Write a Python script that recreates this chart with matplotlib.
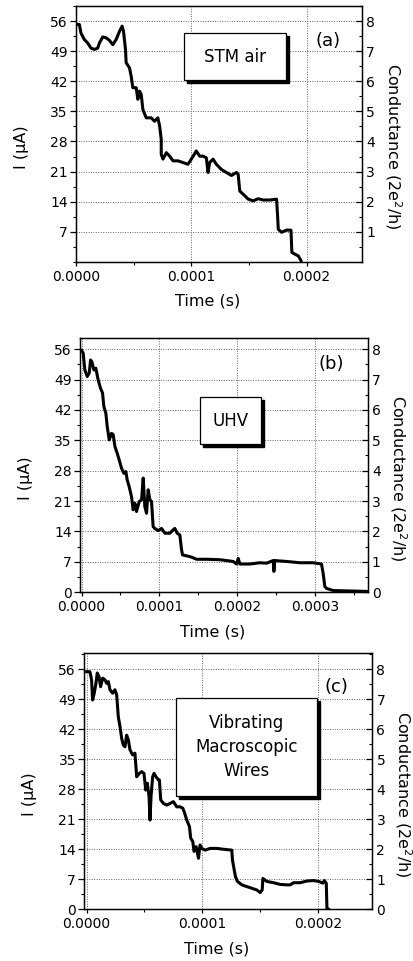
import numpy as np
import matplotlib.pyplot as plt
from matplotlib.patches import Rectangle
from matplotlib.ticker import MultipleLocator, FormatStrFormatter

# time in microseconds, current in uA
t_a = [0, 2.9, 4.3, 7.2, 10.1, 13.0, 15.9, 18.8, 20.3, 23.2, 26.1, 29.0, 31.9, 34.8, 37.7, 40.0,
       41.2, 42.9, 43.5, 46.4, 47.8, 49.3, 52.2, 53.6, 55.1, 56.5, 58.0, 60.9, 65.2, 68.1, 71.0,
       72.5, 73.9, 73.9, 75.4, 78.3, 81.2, 84.1, 88.4, 92.8, 97.1, 100.0, 104.3, 107.2, 110.1,
       113.0, 114.5, 115.9, 118.8, 121.7, 126.1, 130.4, 134.8, 139.1, 140.6, 142.0, 143.5, 146.4,
       149.3, 153.6, 158.0, 162.3, 168.1, 173.9, 174.8, 175.4, 178.3, 182.6, 186.4, 187.2, 189.9,
       192.8, 195.1]
i_a = [55.2, 55.2, 53.2, 51.7, 50.9, 49.7, 49.4, 49.7, 50.9, 52.3, 52.1, 51.5, 50.5, 51.7, 53.6, 54.8,
       53.6, 49.4, 46.3, 45.1, 43.2, 40.5, 40.5, 37.8, 39.7, 39.0, 35.4, 33.5, 33.5, 32.7, 33.5,
       31.6, 28.5, 25.0, 23.9, 25.4, 24.6, 23.5, 23.5, 23.1, 22.7, 23.9, 25.8, 24.6, 24.6,
       24.2, 20.8, 23.1, 23.9, 22.7, 21.5, 20.8, 20.1, 20.8, 20.4, 16.5, 16.1, 15.4,
       14.6, 14.2, 14.7, 14.4, 14.4, 14.6, 10.7, 7.6, 6.9, 7.4, 7.4, 2.2, 1.8,
       1.4, 0.3]

t_b = [0, 2.1, 4.3, 7.3, 9.9, 11.6, 13.3, 15.9, 18.4, 21.4, 24.4, 27.0, 28.7, 31.3, 33.0, 35.6,
       38.6, 40.7, 42.9, 45.9, 48.4, 51.4, 54.4, 57.0, 58.7, 61.3, 64.3, 66.4, 68.6, 70.7, 74.2,
       77.2, 79.3, 81.4, 83.6, 85.7, 87.9, 90.0, 92.1, 94.3, 98.6, 102.9, 107.2, 113.6, 117.9,
       120.0, 123.0, 126.4, 128.6, 129.9, 135.0, 141.4, 147.9, 160.7, 177.9, 195.0, 199.3, 201.5,
       203.6, 216.5, 229.3, 237.9, 246.5, 247.4, 248.6, 263.6, 280.8, 297.9, 308.6, 310.7, 312.9,
       315.0, 323.6, 366.5]
i_b = [55.7, 55.1, 51.2, 49.7, 50.5, 53.5, 53.1, 51.2, 51.6, 48.9, 47.0, 45.9, 42.8, 41.2, 38.2, 35.1,
       36.6, 36.3, 33.6, 32.0, 30.5, 28.6, 27.4, 27.8, 25.9, 24.3, 22.0, 19.0, 20.5, 18.6, 20.9,
       21.3, 26.3, 19.7, 18.2, 23.6, 21.3, 20.9, 15.1, 14.7, 14.2, 14.7, 13.6, 13.6, 14.4,
       14.7, 13.6, 13.2, 9.8, 8.6, 8.4, 8.1, 7.6, 7.6, 7.5, 7.1, 6.5, 7.8,
       6.5, 6.5, 6.8, 6.7, 7.3, 4.8, 7.3, 7.1, 6.8, 6.8, 6.5, 4.4, 1.3,
       0.9, 0.4, 0.2]

t_c = [0, 2.9, 4.3, 5.2, 6.6, 8.1, 9.2, 10.7, 12.1, 13.9, 15.9, 17.3, 18.8, 20.2, 22.5, 24.5,
       26.0, 27.4, 28.9, 30.3, 31.7, 33.2, 34.6, 36.1, 37.5, 39.8, 41.8, 43.3, 45.6, 47.6, 49.6,
       51.1, 52.5, 54.0, 54.8, 55.7, 57.1, 58.3, 60.0, 62.0, 62.9, 64.1, 66.4, 69.3, 72.2, 75.0,
       77.9, 80.8, 83.1, 84.3, 86.6, 88.9, 90.0, 91.8, 92.9, 94.7, 96.7, 98.1, 99.6, 102.5, 106.8,
       112.6, 118.3, 125.5, 126.1, 127.6, 128.7, 130.4, 134.2, 138.5, 142.9, 147.2, 150.1, 151.8,
       152.4, 155.8, 161.6, 167.4, 173.2, 176.0, 178.9, 184.7, 190.5, 196.2, 200.6, 204.3, 205.5,
       207.2, 207.8, 209.2]
i_c = [55.4, 55.4, 53.5, 48.8, 50.4, 52.7, 55.1, 54.3, 51.9, 53.9, 53.5, 52.7, 53.1, 51.2, 50.4, 51.2,
       50.0, 44.9, 42.6, 39.9, 38.3, 37.9, 40.6, 39.5, 37.2, 36.0, 36.4, 30.9, 31.7, 32.1, 31.7,
       27.8, 29.4, 26.3, 20.8, 26.3, 30.9, 31.7, 30.9, 30.2, 30.2, 25.5, 24.7, 24.3, 24.7, 25.1,
       23.9, 23.9, 23.6, 22.8, 20.8, 19.3, 16.6, 15.8, 13.5, 14.6, 11.9, 15.0, 14.2, 13.8, 14.2,
       14.2, 14.0, 13.8, 11.5, 9.2, 7.6, 6.5, 5.7, 5.3, 4.9, 4.5, 3.9, 4.5,
       7.2, 6.5, 6.2, 5.8, 5.7, 5.7, 6.2, 6.2, 6.6, 6.7, 6.5, 6.1, 6.7,
       6.1, 0.0, 0.0]

fig = plt.figure(figsize=(4.14, 9.61), dpi=100)


def panel(rect, t, cur, xlim, ylim, yticks, letter, letter_xy, label, box, label_y):
    ax = fig.add_axes(rect)
    ax.plot(np.array(t) * 1e-6, cur, color='black', lw=2.2, zorder=3)
    ax.set_xlim(*xlim)
    ax.set_ylim(*ylim)
    ax.set_yticks(yticks)
    ax.yaxis.set_minor_locator(MultipleLocator(3.5))
    ax.xaxis.set_major_locator(MultipleLocator(0.0001))
    ax.xaxis.set_minor_locator(MultipleLocator(0.00005))
    ax.xaxis.set_major_formatter(FormatStrFormatter('%.4f'))
    ax.grid(True, which='major', color='#666666', ls=(0, (1, 1.5)), lw=0.7)
    ax.tick_params(axis='y', which='major', direction='out', length=4, width=0.9, pad=2, labelsize=10)
    ax.tick_params(axis='y', which='minor', direction='out', length=2, width=0.8)
    ax.tick_params(axis='x', which='major', direction='out', length=3, width=0.9, pad=2.5, labelsize=10)
    ax.tick_params(axis='x', which='minor', direction='out', length=2, width=0.8)
    for s in ax.spines.values():
        s.set_linewidth(1.0)
    ax.set_xlabel('Time (s)', fontsize=11.5)
    ax.set_ylabel('I (\u00b5A)', fontsize=11.5)
    ax.yaxis.set_label_coords(-0.165, label_y)
    ax.xaxis.set_label_coords(0.46, -0.125)

    ax2 = ax.twinx()
    ax2.set_ylim(ylim[0] / 7, ylim[1] / 7)
    ax2.set_yticks([v / 7 for v in yticks])
    ax2.yaxis.set_major_formatter(FormatStrFormatter('%d'))
    ax2.yaxis.set_minor_locator(MultipleLocator(0.5))
    ax2.tick_params(axis='y', which='major', direction='in', length=4, width=0.9, pad=3, labelsize=10)
    ax2.tick_params(axis='y', which='minor', direction='in', length=2, width=0.8)
    ax2.set_ylabel('Conductance (2e$^2$/h)', fontsize=11.5, rotation=-90, va='center')
    ax2.yaxis.set_label_coords(1.108, label_y)

    x0, y0, x1, y1 = box
    dx, dy = 3.0 / (rect[2] * 414), 3.0 / (rect[3] * 961)
    ax2.add_patch(Rectangle((x0 + dx, y0 - dy), x1 - x0, y1 - y0, transform=ax.transAxes,
                            facecolor='black', edgecolor='black', zorder=5))
    ax2.add_patch(Rectangle((x0, y0), x1 - x0, y1 - y0, transform=ax.transAxes,
                            facecolor='white', edgecolor='black', lw=0.9, zorder=6))
    ax2.text((x0 + x1) / 2, (y0 + y1) / 2, label, transform=ax.transAxes, ha='center', va='center',
             fontsize=12, linespacing=1.45, zorder=7)
    ax2.text(letter_xy[0], letter_xy[1], letter, transform=ax.transAxes, ha='center', va='center',
             fontsize=13, zorder=7)
    return ax


panel([0.1836, 0.7274, 0.6908, 0.2664], t_a, i_a, (0, 0.000248), (0, 59.5),
      [7, 14, 21, 28, 35, 42, 49, 56], '(a)', (0.88, 0.864), 'STM air',
      (0.379, 0.711, 0.733, 0.893), 0.45)
panel([0.1932, 0.3837, 0.6949, 0.2643], t_b, i_b, (-0.000002, 0.000368), (0, 58.5),
      [0, 7, 14, 21, 28, 35, 42, 49, 56], '(b)', (0.875, 0.90), 'UHV',
      (0.417, 0.584, 0.629, 0.768), 0.45)
panel([0.2036, 0.0538, 0.6957, 0.2664], t_c, i_c, (-0.000002, 0.000247), (0, 59.7),
      [0, 7, 14, 21, 28, 35, 42, 49, 56], '(c)', (0.876, 0.87), 'Vibrating\nMacroscopic\nWires',
      (0.317, 0.443, 0.807, 0.824), 0.45)

fig.savefig('out.png', dpi=100)
